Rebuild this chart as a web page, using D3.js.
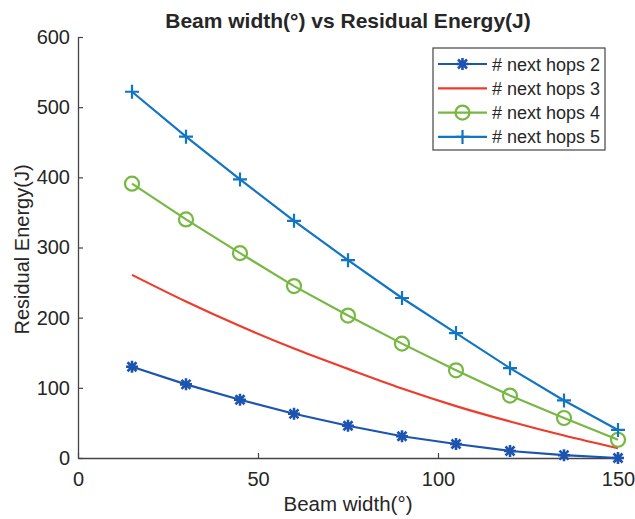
<!DOCTYPE html>
<html>
<head>
<meta charset="utf-8">
<script src="https://cdn.jsdelivr.net/npm/d3@7"></script>
<style>
    body { margin: 0; background: #fff; }
    text { font-family: "Liberation Sans", Arial, sans-serif; fill: #262626; }
</style>
</head>
<body>
<div id="chart"></div>
<script>
// beam width values (x)
let beamWidth = [15, 30, 45, 60, 75, 90, 105, 120, 135, 150];

// residual energy per series
let hops2 = [130, 105, 83, 63, 46, 31, 20, 10, 4, 0];
let hops3 = [261, 223, 188, 156, 127, 99, 74, 52, 32, 14];
let hops4 = [391, 340, 292, 245, 203, 163, 125, 89, 57, 26];
let hops5 = [522, 458, 397, 338, 282, 228, 178, 128, 82, 40];

let seriesNames = ['# next hops 2', '# next hops 3', '# next hops 4', '# next hops 5'];
let xTicks = [0, 50, 100, 150];
let yTicks = [0, 100, 200, 300, 400, 500, 600];

let series = [
    {name: seriesNames[0], values: hops2, color: '#1c54b0', marker: 'star'},
    {name: seriesNames[1], values: hops3, color: '#ee3b2c', marker: 'none'},
    {name: seriesNames[2], values: hops4, color: '#77b843', marker: 'circle'},
    {name: seriesNames[3], values: hops5, color: '#1275c4', marker: 'plus'}
];

let width = 635, height = 519;
let margin = {top: 37, right: 17, bottom: 61, left: 78};
let w = width - margin.left - margin.right;
let h = height - margin.top - margin.bottom;

let svg = d3.select('#chart').append('svg')
    .attr('width', width)
    .attr('height', height);

let g = svg.append('g')
    .attr('transform', `translate(${margin.left}, ${margin.top})`);

let x = d3.scaleLinear().domain([0, 150]).range([0, w]);
let y = d3.scaleLinear().domain([0, 600]).range([h, 0]);

// axes, MATLAB style with inward ticks
let xAxis = d3.axisBottom(x).tickValues(xTicks).tickSizeInner(-5).tickSizeOuter(0).tickPadding(14);
let yAxis = d3.axisLeft(y).tickValues(yTicks).tickSizeInner(-5).tickSizeOuter(0).tickPadding(8);

let gx = g.append('g')
    .attr('transform', `translate(0, ${h})`)
    .call(xAxis);
let gy = g.append('g').call(yAxis);

[gx, gy].forEach(a => {
    a.selectAll('path').attr('stroke', '#444').attr('stroke-width', 1.3);
    a.selectAll('line').attr('stroke', '#444').attr('stroke-width', 1.2);
    a.selectAll('text').style('font-size', '20px').attr('fill', '#262626');
});

// title + axis labels
svg.append('text')
    .attr('x', margin.left + w / 2)
    .attr('y', 28)
    .attr('text-anchor', 'middle')
    .style('font-size', '21px')
    .style('font-weight', 'bold')
    .attr('fill', '#111')
    .text('Beam width(°) vs Residual Energy(J)');

svg.append('text')
    .attr('x', margin.left + w / 2)
    .attr('y', 511)
    .attr('text-anchor', 'middle')
    .style('font-size', '20.5px')
    .text('Beam width(°)');

svg.append('text')
    .attr('transform', `translate(29, ${margin.top + h / 2 + 2}) rotate(-90)`)
    .attr('text-anchor', 'middle')
    .style('font-size', '20px')
    .text('Residual Energy(J)');

// markers
function drawMarker(sel, type, color) {
    if (type === 'circle') {
        sel.append('circle').attr('r', 7)
            .attr('fill', 'none').attr('stroke', color).attr('stroke-width', 2.2);
    } else if (type === 'plus') {
        sel.append('path').attr('d', 'M-7,0H7M0,-7V7')
            .attr('stroke', color).attr('stroke-width', 2.2);
    } else if (type === 'star') {
        sel.append('path').attr('d', 'M-6,0H6M0,-6V6M-4.5,-4.5L4.5,4.5M-4.5,4.5L4.5,-4.5')
            .attr('stroke', color).attr('stroke-width', 2.6);
    }
}

let line = d3.line()
    .x((d, i) => x(beamWidth[i]))
    .y(d => y(d));
let smoothLine = d3.line()
    .curve(d3.curveMonotoneX)
    .x((d, i) => x(beamWidth[i]))
    .y(d => y(d));

series.forEach(s => {
    g.append('path')
        .datum(s.values)
        .attr('fill', 'none')
        .attr('stroke', s.color)
        .attr('stroke-width', 2.2)
        .attr('d', s.marker === 'none' ? smoothLine : line);

    if (s.marker !== 'none') {
        g.selectAll(null)
            .data(s.values)
            .enter()
            .append('g')
            .attr('transform', (d, i) => `translate(${x(beamWidth[i])}, ${y(d)})`)
            .each(function () { drawMarker(d3.select(this), s.marker, s.color); });
    }
});

// legend
let legend = svg.append('g')
    .attr('transform', 'translate(433, 48)');
legend.append('rect')
    .attr('width', 172)
    .attr('height', 102)
    .attr('fill', '#fff')
    .attr('stroke', '#444')
    .attr('stroke-width', 1.2);

series.forEach((s, i) => {
    let row = legend.append('g')
        .attr('transform', `translate(0, ${16 + i * 24.3})`);
    row.append('line')
        .attr('x1', 5).attr('x2', 54)
        .attr('stroke', s.color).attr('stroke-width', 2.2);
    let m = row.append('g').attr('transform', 'translate(29.5, 0)');
    drawMarker(m, s.marker, s.color);
    row.append('text')
        .attr('x', 59)
        .attr('y', 6.5)
        .style('font-size', '18px')
        .text(s.name);
});
</script>
</body>
</html>
